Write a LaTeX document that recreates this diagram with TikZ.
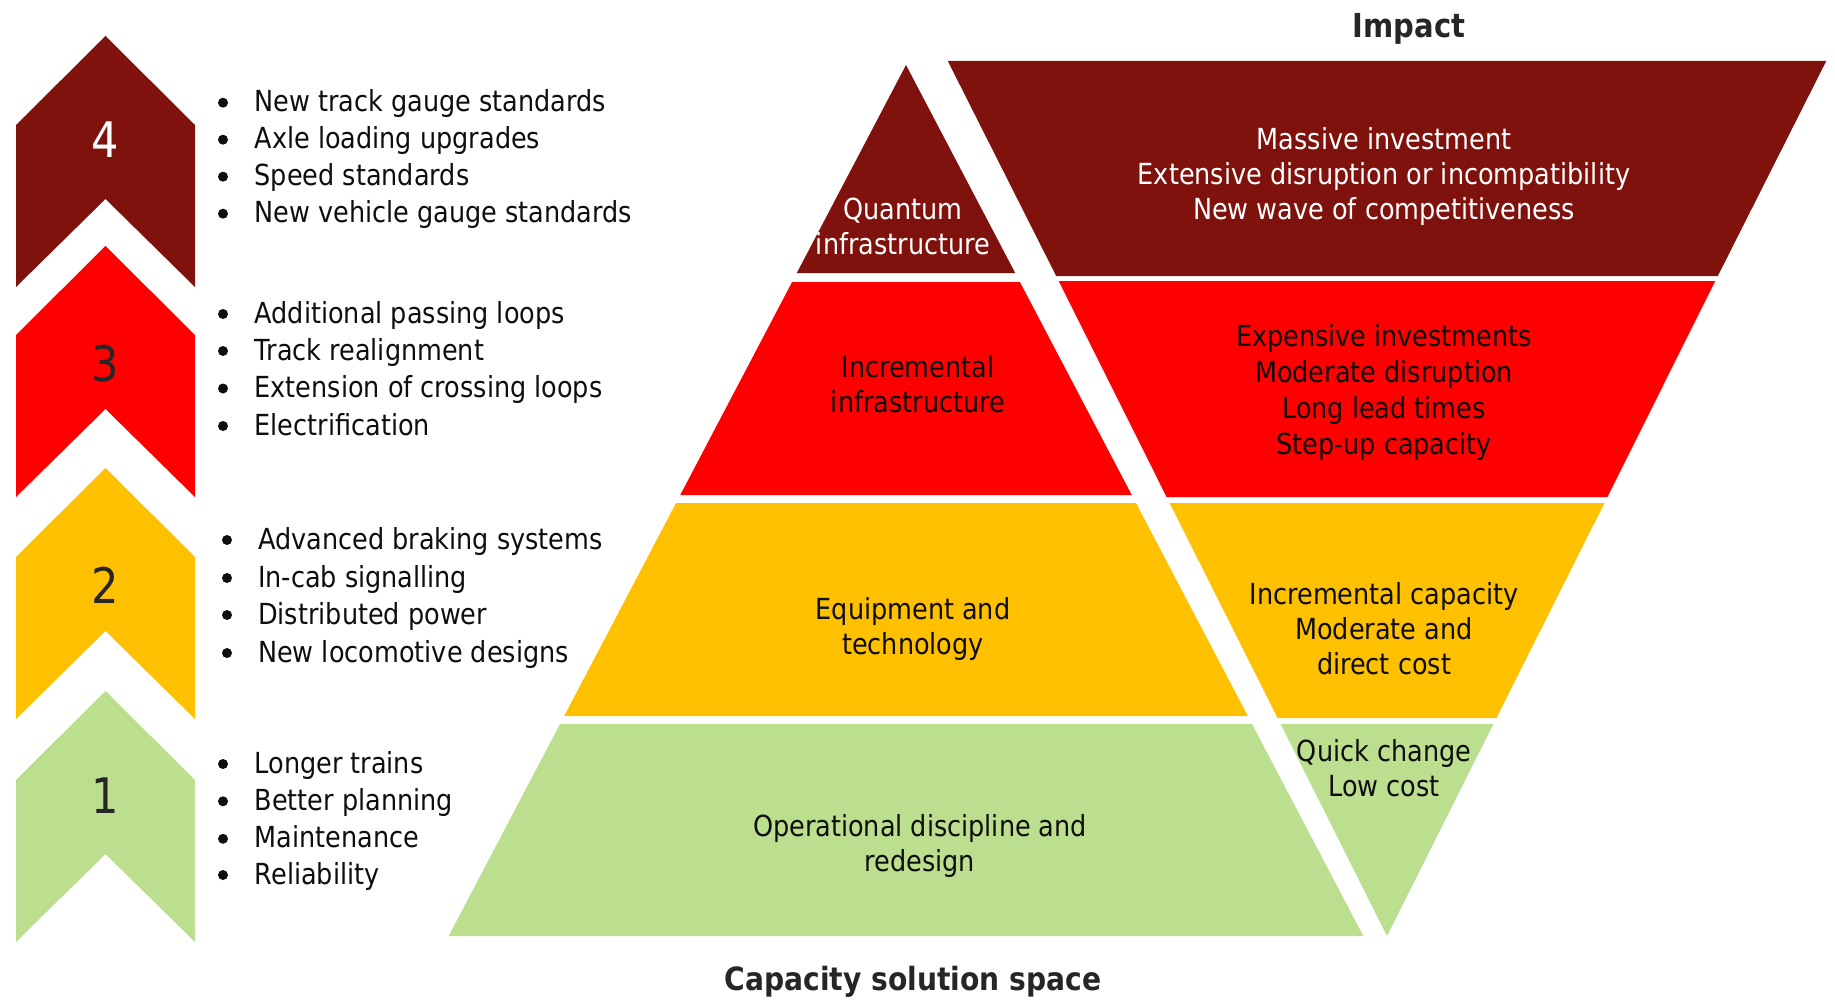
\documentclass[tikz,border=0pt]{standalone}
\usepackage{fontspec}
\setmainfont{DejaVu Sans}[FakeStretch=0.88]

\definecolor{tierfour}{HTML}{7F120D}
\definecolor{tierthree}{HTML}{FF0000}
\definecolor{tiertwo}{HTML}{FFC000}
\definecolor{tierone}{HTML}{BBDE8F}
\definecolor{ink}{HTML}{0E0E0E}
\definecolor{numink}{HTML}{262626}

% chevron pointing up: #1 apex y, #2 fill colour
\newcommand\chevshape[2]{%
  \fill[#2] (16,#1+89) -- (105.5,#1) -- (195,#1+89) -- (195,#1+251)
            -- (105.5,#1+163) -- (16,#1+251) -- cycle;}

% one list entry: #1 name, #2 bullet x, #3 text x, #4 baseline y, #5 text
\newcommand\listentry[5]{%
  \fill[ink] (#2,#4-9) circle (5);
  \node[item] (#1) at (#3,#4) {#5};}

\begin{document}
\begin{tikzpicture}[x=1pt,y=-1pt,
  body/.style={font=\fontsize{29}{35}\selectfont, align=center, inner sep=0pt, text=ink},
  lightbody/.style={body, text=white},
  item/.style={font=\fontsize{29}{35}\selectfont, inner sep=0pt, anchor=base west, text=ink},
  num/.style={font=\fontsize{49}{49}\selectfont, inner sep=0pt, text=numink},
  title/.style={font=\fontsize{33}{33}\selectfont\bfseries, inner sep=0pt, text=numink}]

\useasboundingbox (0,0) rectangle (1835,1008);

% ---- level chevrons ----
\chevshape{36}{tierfour}
\chevshape{246}{tierthree}
\chevshape{468}{tiertwo}
\chevshape{691}{tierone}

\node[num, text=white] (n4) at (105.5,140) {4};
\node[num] (n3) at (105.5,364) {3};
\node[num] (n2) at (105.5,585) {2};
\node[num] (n1) at (105.5,796) {1};

% ---- measures per level ----
\listentry{a1}{223}{254.5}{111.7}{New track gauge standards}
\listentry{a2}{223}{254.5}{148.7}{Axle loading upgrades}
\listentry{a3}{223}{254.5}{185.7}{Speed standards}
\listentry{a4}{223}{254.5}{222.7}{New vehicle gauge standards}

\listentry{b1}{223}{254.5}{323}{Additional passing loops}
\listentry{b2}{223}{254.5}{360}{Track realignment}
\listentry{b3}{223}{254.5}{397.5}{Extension of crossing loops}
\listentry{b4}{223}{254.5}{435}{Electrification}

\listentry{c1}{227}{258}{549}{Advanced braking systems}
\listentry{c2}{227}{258}{587}{In-cab signalling}
\listentry{c3}{227}{258}{624}{Distributed power}
\listentry{c4}{227}{258}{662}{New locomotive designs}

\listentry{d1}{223}{254.5}{773}{Longer trains}
\listentry{d2}{223}{254.5}{810.3}{Better planning}
\listentry{d3}{223}{254.5}{847.8}{Maintenance}
\listentry{d4}{223}{254.5}{884}{Reliability}

% ---- solution space pyramid ----
\fill[tierfour]  (906,65) -- (1015.2,273) -- (796.8,273) -- cycle;
\fill[tierthree] (792.1,282) -- (1019.9,282) -- (1131.75,495) -- (680.25,495) -- cycle;
\fill[tiertwo]   (676.05,503) -- (1135.95,503) -- (1247.8,716) -- (564.2,716) -- cycle;
\fill[tierone]   (560,724) -- (1252,724) -- (1363.3,936) -- (448.7,936) -- cycle;

\node[lightbody] (p4) at (903,226) {Quantum\\infrastructure};
\node[body] (p3) at (918,384.5) {Incremental\\infrastructure};
\node[body] (p2) at (913,628.5) {Equipment and\\technology};
\node[body] (p1) at (920,845.5) {Operational discipline and\\redesign};

% ---- impact funnel ----
\fill[tierfour]  (947.75,61) -- (1826.25,61) -- (1717.8,276) -- (1056.2,276) -- cycle;
\fill[tierthree] (1058.7,281) -- (1715.3,281) -- (1607.4,497) -- (1166.6,497) -- cycle;
\fill[tiertwo]   (1169.6,503) -- (1604.4,503) -- (1496.4,718) -- (1277.6,718) -- cycle;
\fill[tierone]   (1280.6,724) -- (1493.4,724) -- (1387,936) -- cycle;

\node[lightbody] (i4) at (1384,176.5) {Massive investment\\Extensive disruption or incompatibility\\New wave of competitiveness};
\node[body, font=\fontsize{29}{35.7}\selectfont] (i3) at (1384,392.5) {Expensive investments\\Moderate disruption\\Long lead times\\Step-up capacity};
\node[body] (i2) at (1384,628.5) {Incremental capacity\\Moderate and\\direct cost};
\node[body] (i1) at (1384,768) {Quick change\\Low cost};

% ---- axis titles ----
\node[title] (impact) at (1409,29) {Impact};
\node[title, font=\fontsize{32}{32}\selectfont\bfseries] (space) at (913,982) {Capacity solution space};

\end{tikzpicture}
\end{document}
